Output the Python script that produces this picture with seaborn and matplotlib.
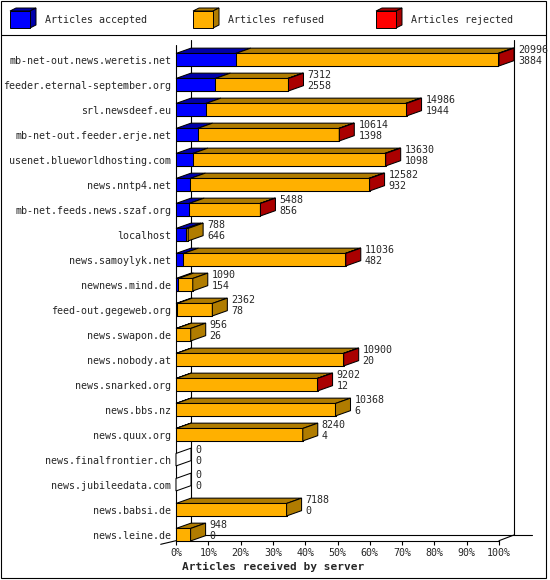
import matplotlib
matplotlib.use("Agg")
import matplotlib.pyplot as plt
import numpy as np
import pandas as pd
import seaborn as sns
from matplotlib.patches import Polygon, Rectangle

# Data (articles per server)
servers = [
    "mb-net-out.news.weretis.net", "feeder.eternal-september.org", "srl.newsdeef.eu",
    "mb-net-out.feeder.erje.net", "usenet.blueworldhosting.com", "news.nntp4.net",
    "mb-net.feeds.news.szaf.org", "localhost", "news.samoylyk.net", "newnews.mind.de",
    "feed-out.gegeweb.org", "news.swapon.de", "news.nobody.at", "news.snarked.org",
    "news.bbs.nz", "news.quux.org", "news.finalfrontier.ch", "news.jubileedata.com",
    "news.babsi.de", "news.leine.de",
]
offered = [20996, 7312, 14986, 10614, 13630, 12582, 5488, 788, 11036, 1090,
           2362, 956, 10900, 9202, 10368, 8240, 0, 0, 7188, 948]
accepted = [3884, 2558, 1944, 1398, 1098, 932, 856, 646, 482, 154,
            78, 26, 20, 12, 6, 4, 0, 0, 0, 0]
# rejected counts are only estimated from the thin red slices
rejected = [60, 40, 60, 30, 60, 50, 20, 0, 30, 0,
            0, 0, 20, 15, 0, 0, 0, 0, 0, 0]
legend_labels = ["Articles accepted", "Articles refused", "Articles rejected"]
x_title = "Articles received by server"

blue, blue_d = "#0000ff", "#0000aa"
orange, orange_d = "#ffb000", "#b07c00"
red, red_d = "#ff0000", "#aa0000"

sns.set_theme(style="white")
plt.rcParams["font.family"] = ["DejaVu Sans Mono"]

offered = np.array(offered, float)
accepted = np.array(accepted, float)
rejected = np.array(rejected, float)
refused = offered - accepted - rejected
scale = 100.0 / offered.max()

df = pd.DataFrame({
    "server": servers,
    "acc": accepted * scale,
    "acc_ref": (accepted + refused) * scale,
    "total": offered * scale,
})

W, H = 550, 580
fig = plt.figure(figsize=(5.5, 5.8), dpi=100)

# background axes in pixel units for frame and legend
bg = fig.add_axes([0, 0, 1, 1])
bg.set_xlim(0, W)
bg.set_ylim(H, 0)
bg.axis("off")
bg.add_patch(Rectangle((0.5, 0.5), 545.5, 577.5, fill=False, ec="black", lw=0.8))
bg.plot([0.5, 546], [35, 35], color="black", lw=0.8)
for lx, c, cd, lab in zip([10, 193, 376], [blue, orange, red], [blue_d, orange_d, red_d], legend_labels):
    bg.add_patch(Polygon([(lx, 11), (lx + 20, 11), (lx + 26, 8), (lx + 6, 8)], fc=cd, ec="black", lw=0.7))
    bg.add_patch(Polygon([(lx + 20, 11), (lx + 26, 8), (lx + 26, 25), (lx + 20, 28)], fc=cd, ec="black", lw=0.7))
    bg.add_patch(Rectangle((lx, 11), 20, 17, fc=c, ec="black", lw=0.7))
    bg.text(lx + 35, 20, lab, fontsize=7.2, va="center", ha="left")

# main plot area: 0..100% spans x pixels 176..499, rows every 25 px starting at y=59.7
x0px, x1px = 176, 499
row0, rowh = 59.7, 25.0
top_px, bot_px = 40, 540.7
ux = 100.0 / (x1px - x0px)
ax = fig.add_axes([x0px / W, (H - bot_px) / H, (x1px - x0px) / W, (bot_px - top_px) / H])
ax.set_facecolor("none")

def ypx(p):
    return (p - row0) / rowh

for col, c in [("total", red), ("acc_ref", orange), ("acc", blue)]:
    sns.barplot(data=df, x=col, y="server", orient="h", color=c, saturation=1,
                width=0.5, edgecolor="black", linewidth=0.75, errorbar=None,
                ax=ax, zorder=3)

dx = 15 * ux
dy = 5.3 / rowh

# 3D top and side faces
for i, r in df.iterrows():
    yt = i - 0.25
    segs = [(0, r["acc"], blue_d), (r["acc"], r["acc_ref"], orange_d), (r["acc_ref"], r["total"], red_d)]
    side = "white"
    for a, b, cd in segs:
        if b - a > 1e-9:
            ax.add_patch(Polygon([(a, yt), (b, yt), (b + dx, yt - dy), (a + dx, yt - dy)],
                                 fc=cd, ec="black", lw=0.75, zorder=3, clip_on=False))
            side = cd
    t = r["total"]
    ax.add_patch(Polygon([(t, yt), (t + dx, yt - dy), (t + dx, yt + 0.5 - dy), (t, yt + 0.5)],
                         fc=side, ec="black", lw=0.75, zorder=3, clip_on=False))
    tx = t + dx + 4 * ux
    ax.text(tx, i - 9.7 / rowh, f"{int(offered[i])}", fontsize=7.2, va="center", ha="left", zorder=4)
    ax.text(tx, i + 1.1 / rowh, f"{int(accepted[i])}", fontsize=7.2, va="center", ha="left", zorder=4)

# walls and floor
lw = 0.8
ax.plot([0, 0], [ypx(45), ypx(bot_px)], color="black", lw=lw, clip_on=False, zorder=1)
ax.plot([dx, dx], [ypx(40), ypx(535)], color="black", lw=lw, clip_on=False, zorder=1)
ax.plot([100 + dx, 100 + dx], [ypx(40), ypx(535)], color="black", lw=lw, clip_on=False, zorder=1)
ax.plot([dx, (531.7 - x0px) * ux], [ypx(535), ypx(535)], color="black", lw=lw, clip_on=False, zorder=1)
ax.plot([100, 100 + dx], [ypx(bot_px), ypx(535)], color="black", lw=lw, clip_on=False, zorder=1)
ax.plot([-15.3 * ux, 0], [ypx(544.3), ypx(bot_px)], color="black", lw=lw, clip_on=False, zorder=1)

ax.set_xlim(0, 100)
ax.set_ylim(ypx(bot_px), ypx(top_px))
for s in ["top", "right", "left"]:
    ax.spines[s].set_visible(False)
ax.spines["bottom"].set_color("black")
ax.spines["bottom"].set_linewidth(lw)

ax.set_xticks(np.arange(0, 101, 10))
ax.set_xticklabels([f"{k}%" for k in range(0, 101, 10)])
ax.tick_params(axis="x", bottom=True, length=3, width=lw, color="black", pad=2, labelsize=7.2, direction="out")
ax.tick_params(axis="y", left=False, length=0, pad=3.5, labelsize=7.2)
ax.set_ylabel("")
ax.set_xlabel(x_title, fontsize=8, fontweight="bold")
ax.xaxis.set_label_coords((273.5 - x0px) / (x1px - x0px), (bot_px - 566.7) / (bot_px - top_px))
ax.xaxis.label.set_va("center")

fig.savefig("out.png", dpi=100)
